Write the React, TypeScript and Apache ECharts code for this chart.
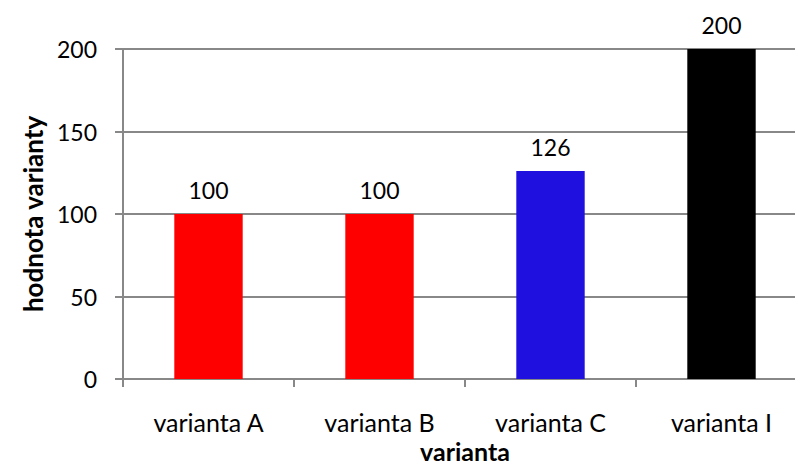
import React, { useEffect, useRef } from "react";
import * as echarts from "echarts";

const categories = ["varianta A", "varianta B", "varianta C", "varianta I"];
const values = [100, 100, 126, 200];
const barColors = ["#FF0000", "#FF0000", "#2010E0", "#000000"];
const yTicks = { min: 0, max: 200, interval: 50 };

export default function App() {
  const ref = useRef<HTMLDivElement>(null);
  useEffect(() => {
    if (!ref.current) return;
    const chart = echarts.init(ref.current, null, { renderer: "svg" });
    const font = "Lato";
    chart.setOption({
      animation: false,
      backgroundColor: "#ffffff",
      textStyle: { fontFamily: font },
      grid: { left: 123, right: -12, top: 49, bottom: 89, outerBoundsMode: "none", containLabel: false },
      xAxis: {
        type: "category",
        data: categories,
        name: "varianta",
        nameLocation: "middle",
        nameGap: 60,
        nameTextStyle: { fontFamily: font, fontSize: 25, lineHeight: 24, fontWeight: "bold", color: "#000" },
        axisLine: { show: true, lineStyle: { color: "#888888", width: 2 } },
        axisTick: { show: true, length: 8, lineStyle: { color: "#888888", width: 2 } },
        axisLabel: { fontFamily: font, fontSize: 25, color: "#000", margin: 30 },
      },
      yAxis: {
        type: "value",
        min: yTicks.min,
        max: yTicks.max,
        interval: yTicks.interval,
        name: "hodnota varianty",
        nameLocation: "middle",
        nameGap: 75,
        nameTextStyle: { fontFamily: font, fontSize: 26, fontWeight: "bold", color: "#000" },
        axisLine: { show: true, lineStyle: { color: "#888888", width: 2 } },
        axisTick: { show: true, length: 8, lineStyle: { color: "#888888", width: 2 } },
        splitLine: { show: true, lineStyle: { color: "#888888", width: 2 } },
        axisLabel: { fontFamily: font, fontSize: 23, color: "#000", margin: 26 },
      },
      series: [
        {
          type: "bar",
          barWidth: "40%",
          data: values.map((v, i) => ({ value: v, itemStyle: { color: barColors[i] } })),
          label: {
            show: true,
            position: "top",
            distance: 13,
            fontFamily: font,
            fontSize: 23,
            color: "#000",
          },
        },
      ],
    });
    return () => chart.dispose();
  }, []);
  return (
    <div
      ref={ref}
      style={{ position: "absolute", left: 0, top: 0, width: 795, height: 468 }}
    />
  );
}
